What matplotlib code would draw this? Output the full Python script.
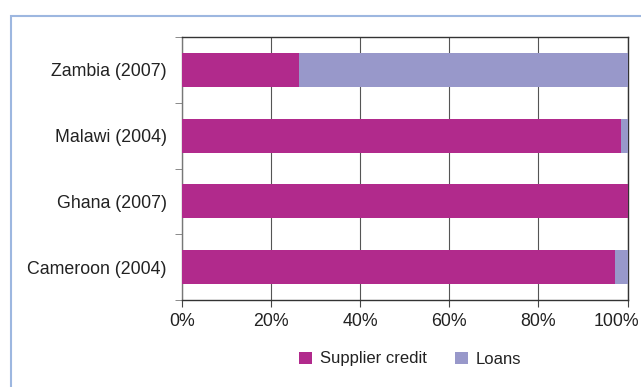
import matplotlib
matplotlib.use("Agg")
import matplotlib.pyplot as plt
import matplotlib.transforms as mtransforms
from matplotlib.patches import Rectangle
import numpy as np

categories = ["Cameroon (2004)", "Ghana (2007)", "Malawi (2004)", "Zambia (2007)"]
supplier_credit = [97.2, 100.0, 98.6, 26.3]
loans = [2.8, 0.0, 1.4, 73.7]
xticks = [0, 20, 40, 60, 80, 100]
xticklabels = ["0%", "20%", "40%", "60%", "80%", "100%"]

c_sup = "#B12A8C"
c_loan = "#9898CA"

plt.rcParams['font.family'] = ['Liberation Sans', 'DejaVu Sans']

fig = plt.figure(figsize=(6.41, 3.87), dpi=100)
fig.patches.append(Rectangle((11/641, -0.1), 1.2, 1 - 16/387 + 0.1, transform=fig.transFigure,
                             fill=False, edgecolor="#9DB7E0", linewidth=1.5))
ax = fig.add_axes([182/641, 1 - 300/387, (627.5 - 182)/641, (300 - 37)/387])

y = np.arange(len(categories))
ax.barh(y, supplier_credit, height=0.52, color=c_sup, label="Supplier credit", zorder=3)
ax.barh(y, loans, left=supplier_credit, height=0.52, color=c_loan, label="Loans", zorder=3)

ax.set_xlim(0, 100)
ax.set_ylim(-0.5, 3.5)
ax.set_xticks(xticks)
ax.set_xticklabels(xticklabels, fontsize=12.8, color="#222222")
ax.set_yticks(y)
ax.set_yticklabels(categories, fontsize=12.8, color="#222222")
ax.set_yticks(np.arange(-0.5, 4.0, 1.0), minor=True)
ax.tick_params(axis='y', which='major', length=0, pad=11)
ax.tick_params(axis='y', which='minor', length=5, color="#777777")
ax.tick_params(axis='x', which='major', length=5, color="#444444", pad=4)
ax.xaxis.grid(True, color="#555555", linewidth=0.8, zorder=0)
for s in ["top", "right", "bottom"]:
    ax.spines[s].set_color("#333333")
    ax.spines[s].set_linewidth(1.0)
ax.spines["left"].set_color("#777777")
ax.spines["left"].set_linewidth(1.0)

# keep the last tick label inside the figure, as in the reference
last = ax.get_xticklabels()[-1]
last.set_horizontalalignment('right')
last.set_transform(last.get_transform() + mtransforms.ScaledTranslation(12/100, 0, fig.dpi_scale_trans))

leg = fig.legend(loc="center", bbox_to_anchor=(0.64, 1 - 359/387), ncol=2, frameon=False,
                 fontsize=12, handlelength=0.75, handleheight=0.75, columnspacing=1.7,
                 handletextpad=0.5)
for t in leg.get_texts():
    t.set_color("#222222")

fig.savefig("out.png", dpi=100)
